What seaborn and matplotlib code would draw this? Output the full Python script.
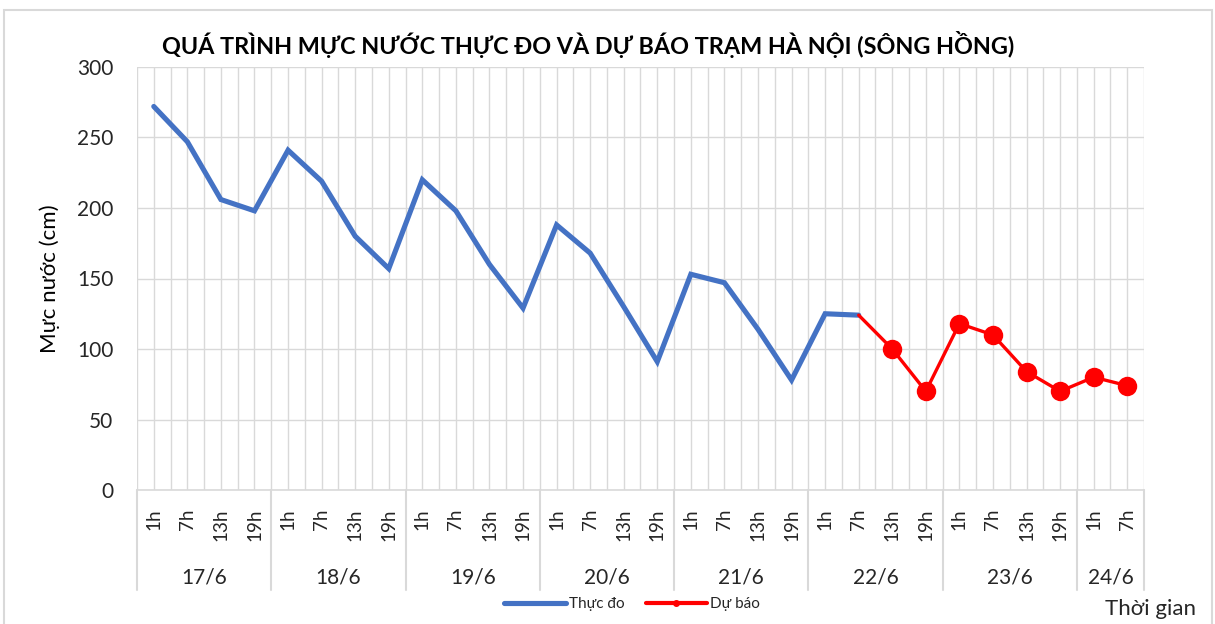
import numpy as np
import pandas as pd
import matplotlib
matplotlib.use("Agg")
import matplotlib.pyplot as plt
import matplotlib.transforms as mtransforms
from matplotlib.lines import Line2D
from matplotlib.patches import Rectangle
import seaborn as sns

# ---- data ----
days = ["17/6", "18/6", "19/6", "20/6", "21/6", "22/6", "23/6", "24/6"]
hours_per_day = [4, 4, 4, 4, 4, 4, 4, 2]
hour_names = ["1h", "7h", "13h", "19h"]
observed = [272, 247, 206, 198, 241, 219, 180, 157, 220, 198, 160, 129,
            188, 168, 130, 91, 153, 147, 114, 78, 125, 124]
forecast = [124, 100, 70, 118, 110, 84, 70, 80, 74]   # starts at last observed point
title = "QUÁ TRÌNH MỰC NƯỚC THỰC ĐO VÀ DỰ BÁO TRẠM HÀ NỘI (SÔNG HỒNG)"
ylabel = "Mực nước (cm)"
xlabel = "Thời gian"
series_names = ["Thực đo", "Dự báo"]

hour_labels = []
for d, n in zip(days, hours_per_day):
    hour_labels += hour_names[:n]
n_pts = len(hour_labels)

obs_df = pd.DataFrame({"pos": np.arange(len(observed)), "val": observed})
f_start = len(observed) - 1
fc_df = pd.DataFrame({"pos": np.arange(f_start, f_start + len(forecast)), "val": forecast})

# ---- style ----
sns.set_theme(style="white")
FONT = ["Lato", "Noto Sans", "DejaVu Sans"]
plt.rcParams["font.family"] = FONT
TXT = "#262626"
GRID = "#d9d9d9"
BLUE = "#4472C4"
RED = "#FF0000"

W, H = 1215, 624
fig = plt.figure(figsize=(W / 100, H / 100), dpi=100)
L, R, T, B = 137, 1144, 67, 490
ax = fig.add_axes([L / W, 1 - B / H, (R - L) / W, (B - T) / H])

# frame around the chart
fig.patches.append(Rectangle((4 / W, -0.02), (1212 - 4) / W, 1 - 10 / H + 0.02,
                             transform=fig.transFigure, fill=False,
                             edgecolor=GRID, lw=1.5))

sns.lineplot(data=obs_df, x="pos", y="val", ax=ax, color=BLUE, lw=3.7,
             solid_joinstyle="miter", legend=False, zorder=3)
sns.lineplot(data=fc_df, x="pos", y="val", ax=ax, color=RED, lw=2.4,
             marker="o", markersize=14, markeredgewidth=0,
             markevery=list(range(1, len(forecast))), legend=False, zorder=4)

ax.set_xlim(-0.5, n_pts - 0.5)
ax.set_ylim(0, 300)
ax.set_yticks(np.arange(0, 301, 50))
ax.set_xticks(np.arange(n_pts))
ax.set_xticks(np.arange(-0.5, n_pts, 1.0), minor=True)
ax.set_xticklabels(hour_labels, rotation=90, fontsize=13.5, color=TXT)
ax.tick_params(axis="x", which="both", length=0, pad=13)
ax.tick_params(axis="y", length=0, pad=17, labelsize=15, labelcolor=TXT)
ax.grid(True, which="both", axis="x", color=GRID, lw=1)
ax.grid(True, which="major", axis="y", color=GRID, lw=1)
for s in ["top", "right", "left"]:
    ax.spines[s].set_visible(False)
ax.spines["bottom"].set_color(GRID)
ax.spines["bottom"].set_linewidth(1.2)
ax.set_xlabel("")
ax.set_ylabel(ylabel, fontsize=16, color="black", labelpad=12)

# day group labels and separators
trans = mtransforms.blended_transform_factory(ax.transData, ax.transAxes)
start = 0
bounds = [-0.5]
for d, n in zip(days, hours_per_day):
    center = start + (n - 1) / 2
    ax.text(center, -0.206, d, transform=trans, ha="center", va="center",
            fontsize=15, color=TXT)
    start += n
    bounds.append(start - 0.5)
for bx in bounds:
    ax.plot([bx, bx], [0, -0.236], transform=trans, color=GRID, lw=1.5,
            clip_on=False)

# title
fig.text(588 / W, 1 - 45 / H, title, ha="center", va="center",
         fontsize=16.8, fontweight="bold", color="black")

# x label
fig.text(1196 / W, 1 - 609 / H, xlabel, ha="right", va="center",
         fontsize=16, color=TXT)

# legend
handles = [Line2D([], [], color=BLUE, lw=3.7),
           Line2D([], [], color=RED, lw=3.0, marker="o", markersize=4)]
fig.legend(handles, series_names, loc="center", ncol=2,
           bbox_to_anchor=(632 / W, 1 - 604 / H), frameon=False,
           fontsize=11, handlelength=4.0, handletextpad=0.2,
           columnspacing=1.4, labelcolor=TXT)

fig.savefig("out.png", dpi=100)
